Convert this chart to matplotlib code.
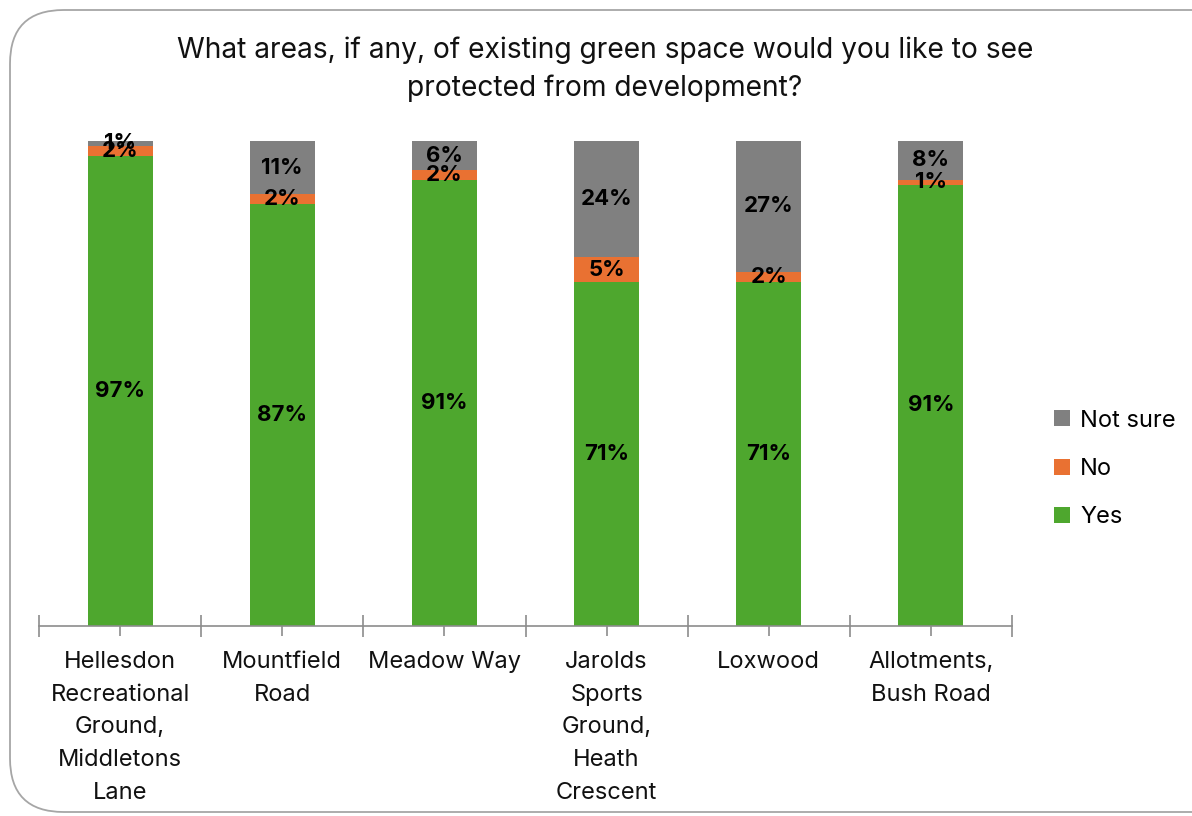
#100% stacked bar chart of green space survey answers
import numpy as np
import matplotlib.pyplot as plt
from matplotlib.patches import FancyBboxPatch

plt.rcParams['font.family'] = ['Inter', 'DejaVu Sans']

categorias = ['Hellesdon\nRecreational\nGround,\nMiddletons\nLane', 'Mountfield\nRoad', 'Meadow Way',
              'Jarolds\nSports\nGround,\nHeath\nCrescent', 'Loxwood', 'Allotments,\nBush Road']
yes = np.array([97, 87, 91, 71, 71, 91])
no = np.array([2, 2, 2, 5, 2, 1])
not_sure = np.array([1, 11, 6, 24, 27, 8])
series = [('Yes', yes, '#4EA72E'), ('No', no, '#E97132'), ('Not sure', not_sure, '#808080')]

W, H = 1192, 816
fig = plt.figure(figsize=(W/100, H/100), dpi=100)

#rounded frame around the whole chart
frame = FancyBboxPatch((10/W, 4/H), 1.2, (812-10)/H, boxstyle='round,pad=0,rounding_size=0.045',
                       transform=fig.transFigure, facecolor='white', edgecolor='#A6A6A6', linewidth=1.3,
                       mutation_aspect=W/H, zorder=-5)
fig.patches.append(frame)

ax = fig.add_axes([39/W, 1-626/H, (1012-39)/W, (626-141)/H])
ax.patch.set_alpha(0)
ax.set_zorder(2)

totales = yes + no + not_sure
x = np.arange(len(categorias))
bottom = np.zeros(len(categorias))
handles = []
for nombre, vals, color in series:
    frac = vals / totales
    b = ax.bar(x, frac, 0.4, bottom=bottom, color=color, label=nombre, zorder=2)
    handles.append(b)
    for xi, f, bt, v in zip(x, frac, bottom, vals):
        ax.text(xi, bt + f/2, f'{v}%', ha='center', va='center', fontsize=16,
                fontweight='bold', color='black', zorder=3)
    bottom = bottom + frac

ax.set_xlim(-0.5, len(categorias)-0.5)
ax.set_ylim(0, 1)
ax.set_yticks([])
for s in ['top', 'right', 'left']:
    ax.spines[s].set_visible(False)
ax.spines['bottom'].set_color('#8C8C8C')
ax.spines['bottom'].set_linewidth(1.2)

#boundary ticks crossing the axis, short ticks at the centres
ax.set_xticks(np.arange(-0.5, len(categorias)), minor=False)
ax.set_xticklabels([])
ax.tick_params(axis='x', which='major', direction='inout', length=16, width=1.2, color='#8C8C8C')
ax.set_xticks(x, minor=True)
ax.set_xticklabels(categorias, minor=True, fontsize=17, linespacing=1.63, color='#111111')
ax.tick_params(axis='x', which='minor', direction='out', length=7, width=1.2, color='#8C8C8C', pad=11)
for lbl in ax.get_xticklabels(minor=True):
    lbl.set_verticalalignment('top')

fig.text(605/W, 1-69/H, 'What areas, if any, of existing green space would you like to see\nprotected from development?',
         ha='center', va='center', fontsize=20.3, linespacing=1.5, color='#111111')

ax.legend(handles[::-1], [s[0] for s in series][::-1], loc='center left', bbox_to_anchor=(1033/W, 1-469/H),
          bbox_transform=fig.transFigure, frameon=False, fontsize=17, handlelength=0.65, handleheight=0.65,
          labelspacing=1.12, handletextpad=0.45)

plt.savefig('out.png', dpi=100)
